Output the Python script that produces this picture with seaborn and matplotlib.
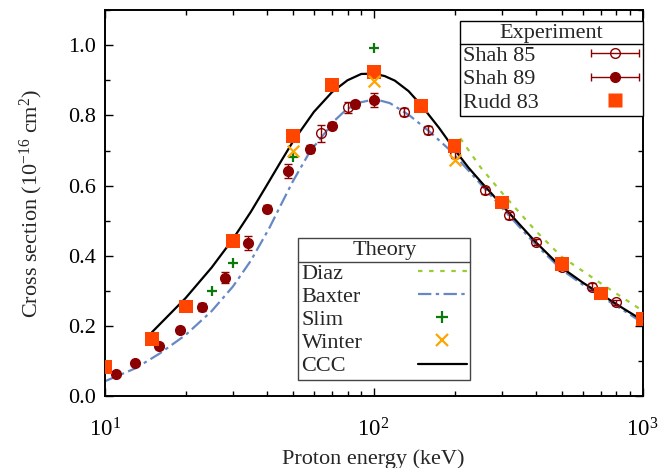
import numpy as np
import pandas as pd
import matplotlib
matplotlib.use("Agg")
import matplotlib.pyplot as plt
import matplotlib.ticker as mticker
from matplotlib.lines import Line2D
from matplotlib.legend_handler import HandlerErrorbar
import seaborn as sns

# --- data (energy in keV, cross section in 1e-16 cm^2) ---
shah85_e = [64, 80, 130, 160, 200, 260, 320, 400, 500, 650, 800, 1000]
shah85_s = [0.749, 0.823, 0.810, 0.758, 0.690, 0.587, 0.516, 0.440, 0.368, 0.313, 0.268, 0.225]
shah85_err = [0.025, 0.015, 0.012, 0.012, 0.010, 0.010, 0.010, 0.008, 0.008, 0.010, 0.008, 0.008]

shah89_e = [11, 13, 16, 19, 23, 28, 34, 40, 48, 58, 70, 85, 100]
shah89_s = [0.065, 0.096, 0.143, 0.190, 0.254, 0.338, 0.436, 0.534, 0.642, 0.704, 0.770, 0.832, 0.843]
shah89_err = [0.005, 0.006, 0.008, 0.008, 0.012, 0.015, 0.02, 0.01, 0.02, 0.012, 0.01, 0.01, 0.02]

rudd_e = [10, 15, 20, 30, 50, 70, 100, 150, 200, 300, 500, 700, 1000]
rudd_s = [0.084, 0.163, 0.256, 0.443, 0.742, 0.887, 0.924, 0.828, 0.713, 0.552, 0.378, 0.293, 0.221]

slim_e = [25, 30, 50, 100]
slim_s = [0.299, 0.380, 0.681, 0.991]

winter_e = [50, 100, 200]
winter_s = [0.700, 0.899, 0.673]

diaz_e = [210, 250, 300, 400, 500, 700, 1000]
diaz_s = [0.735, 0.652, 0.580, 0.472, 0.398, 0.322, 0.244]

baxter_e = [10, 13, 16, 20, 25, 30, 35, 41, 45, 50, 58, 65, 72, 79, 88, 97, 105, 115,
            136, 162, 193, 250, 300, 400, 500, 600, 700, 850, 1000]
baxter_s = [0.043, 0.080, 0.122, 0.175, 0.243, 0.313, 0.387, 0.480, 0.542, 0.611, 0.697,
            0.744, 0.787, 0.816, 0.836, 0.843, 0.843, 0.835, 0.800, 0.753, 0.700, 0.605,
            0.537, 0.433, 0.361, 0.318, 0.285, 0.245, 0.210]

ccc_e = [15, 20, 25, 30, 35, 40, 45, 50, 60, 70, 80, 90, 100, 110, 120, 135, 150, 175,
         200, 225, 250, 300, 400, 500, 600, 700, 850, 1000]
ccc_s = [0.183, 0.280, 0.367, 0.448, 0.526, 0.600, 0.666, 0.724, 0.810, 0.866, 0.900,
         0.918, 0.919, 0.912, 0.899, 0.869, 0.830, 0.765, 0.703, 0.652, 0.612, 0.545,
         0.440, 0.367, 0.324, 0.291, 0.250, 0.217]

sns.set_theme(style="ticks")
plt.rcParams['font.family'] = ['Liberation Serif', 'DejaVu Serif']
plt.rcParams['mathtext.fontset'] = 'custom'
plt.rcParams['mathtext.rm'] = 'Liberation Serif'
plt.rcParams['mathtext.it'] = 'Liberation Serif:italic'
plt.rcParams['font.size'] = 16

fig = plt.figure(figsize=(6.62, 4.68), dpi=100)
ax = fig.add_axes([0.158, 0.1528, 0.8126, 0.8258])

red = '#8b0000'
c_rudd = '#ff4500'
c_slim = '#0a7a0a'
c_winter = '#ffa500'
c_diaz = '#9acd32'
c_baxter = '#6688c4'

# theory curves
sns.lineplot(data=pd.DataFrame({'E': diaz_e, 's': diaz_s}), x='E', y='s', ax=ax,
             color=c_diaz, lw=1.6, linestyle=(0, (2, 3)), sort=False, estimator=None)
sns.lineplot(data=pd.DataFrame({'E': baxter_e, 's': baxter_s}), x='E', y='s', ax=ax,
             color=c_baxter, lw=1.6, linestyle=(0, (6, 2, 1.5, 2)), sort=False, estimator=None)
sns.lineplot(data=pd.DataFrame({'E': ccc_e, 's': ccc_s}), x='E', y='s', ax=ax,
             color='black', lw=1.6, sort=False, estimator=None)

# experiment
ax.errorbar(shah85_e, shah85_s, yerr=shah85_err, fmt='o', ms=7, mfc='none', mec=red,
            mew=1.0, ecolor=red, elinewidth=1, capsize=3, zorder=3)
ax.errorbar(shah89_e, shah89_s, yerr=shah89_err, fmt='o', ms=7, color=red,
            ecolor=red, elinewidth=1, capsize=3, zorder=3)
sns.scatterplot(x=rudd_e, y=rudd_s, ax=ax, marker='s', s=100, color=c_rudd,
                edgecolor='none', zorder=4)
sns.scatterplot(x=slim_e, y=slim_s, ax=ax, marker='+', s=60, color=c_slim,
                linewidth=1.6, zorder=5)
sns.scatterplot(x=winter_e, y=winter_s, ax=ax, marker='x', s=70, color=c_winter,
                linewidth=1.6, zorder=5)

ax.set_xscale('log')
ax.set_xlim(10, 1000)
ax.set_ylim(0, 1.1)
ax.yaxis.set_major_locator(mticker.MultipleLocator(0.2))
ax.yaxis.set_minor_locator(mticker.MultipleLocator(0.1))
ax.yaxis.set_major_formatter(mticker.FormatStrFormatter('%.1f'))
ax.tick_params(which='both', direction='in', top=True, right=True, colors='black',
               labelsize=16, width=1)
ax.tick_params(which='major', length=6, pad=6)
ax.tick_params(which='minor', length=3.5)
ax.tick_params(axis='x', which='major', labelsize=16.5, pad=16)
for sp in ax.spines.values():
    sp.set_linewidth(1.4)
    sp.set_color('black')
ax.set_xlabel('Proton energy (keV)', fontsize=16, labelpad=5)
ax.set_ylabel('Cross section (10$^{-16}$ cm$^2$)', fontsize=16, labelpad=17)

# legend handles
h85 = ax.errorbar([np.nan], [np.nan], xerr=[1], fmt='o', ms=7, mfc='none', mec=red,
                  mew=1.0, ecolor=red, elinewidth=1, capsize=3)
h89 = ax.errorbar([np.nan], [np.nan], xerr=[1], fmt='o', ms=7, color=red,
                  ecolor=red, elinewidth=1, capsize=3)
hr = Line2D([], [], marker='s', ms=10, color=c_rudd, ls='none', mec='none')
exp_leg = ax.legend([h85, h89, hr], ['Shah 85', 'Shah 89', 'Rudd 83'], title='Experiment',
                    loc='upper right', bbox_to_anchor=(1.0, 1 - 10.7 / 386.5),
                    borderaxespad=0, markerfirst=False, numpoints=1, fancybox=False,
                    framealpha=1, edgecolor='black', fontsize=16, title_fontsize=16,
                    labelspacing=0.12, handlelength=2.2, handletextpad=2.3,
                    borderpad=0.15, handler_map={type(h85): HandlerErrorbar(xerr_size=1.08)})
exp_leg.get_frame().set_linewidth(1.0)
ax.add_artist(exp_leg)

th = [Line2D([], [], color=c_diaz, lw=1.6, ls=(0, (2, 3))),
      Line2D([], [], color=c_baxter, lw=1.6, ls=(0, (6, 2, 1.5, 2))),
      Line2D([], [], marker='+', ms=8, mew=1.6, color=c_slim, ls='none'),
      Line2D([], [], marker='x', ms=8, mew=1.6, color=c_winter, ls='none'),
      Line2D([], [], color='black', lw=1.6)]
th_leg = ax.legend(th, ['Diaz', 'Baxter', 'Slim', 'Winter', 'CCC'], title='Theory',
                   loc='upper left', bbox_to_anchor=(0.36, 0.41), borderaxespad=0,
                   markerfirst=False, numpoints=1, fancybox=False, framealpha=1,
                   edgecolor='#444444', fontsize=16, title_fontsize=16,
                   labelspacing=0.12, handlelength=2.2, handletextpad=2.5, borderpad=0.15)
th_leg.get_frame().set_linewidth(1.0)

# left-align legend texts (gnuplot style) and add a rule under the titles
fig.canvas.draw()
r = fig.canvas.get_renderer()
pt = fig.dpi / 72.0
for leg in (exp_leg, th_leg):
    for col in leg._legend_handle_box.get_children():
        items = col.get_children()
        widths = [it.get_children()[0].get_window_extent(r).width for it in items]
        wmax = max(widths)
        for it, w in zip(items, widths):
            it.sep = it.sep + (wmax - w) / pt
fig.canvas.draw()
for leg in (exp_leg, th_leg):
    lb = leg.get_window_extent(r)
    tb = leg._legend_title_box.get_window_extent(r)
    hb = leg._legend_handle_box.get_window_extent(r)
    y = (tb.y0 + hb.y1) / 2
    x0, y0 = fig.transFigure.inverted().transform((lb.x0, y))
    x1, _ = fig.transFigure.inverted().transform((lb.x1, y))
    fig.add_artist(Line2D([x0, x1], [y0, y0], color=leg.get_frame().get_edgecolor(),
                          lw=1.0, transform=fig.transFigure, zorder=10))

fig.savefig('out.png', dpi=100)
